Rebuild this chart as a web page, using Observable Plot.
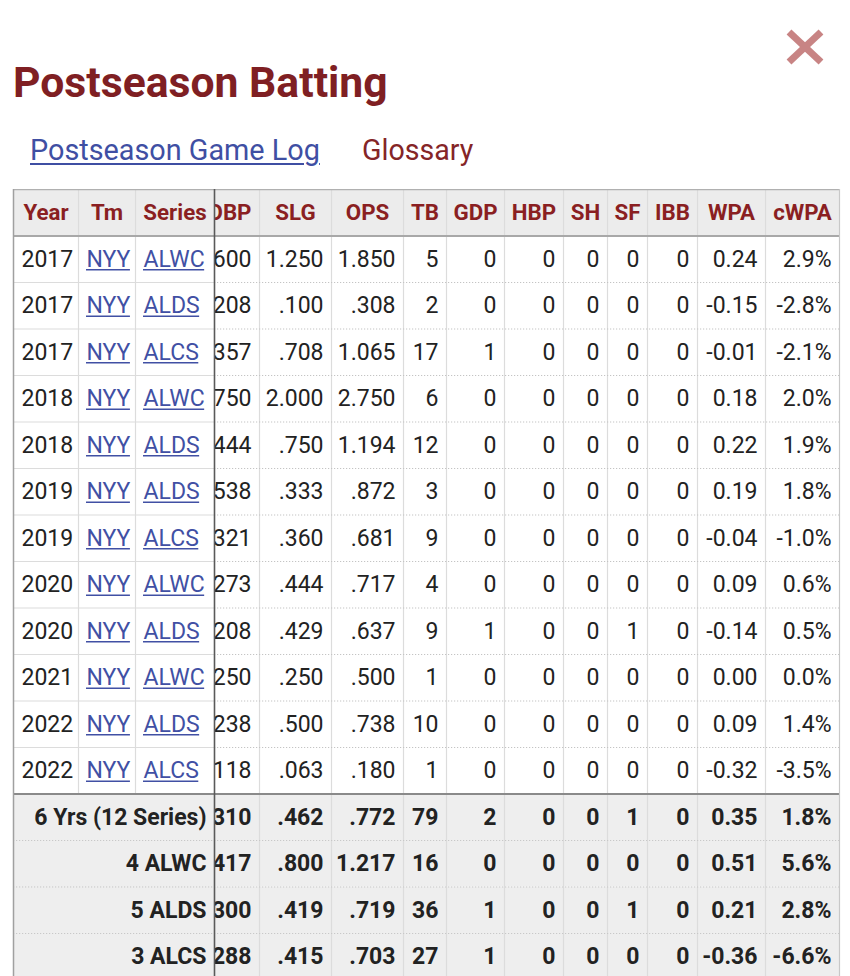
<!DOCTYPE html>
<html>
<head>
<meta charset="utf-8">
<script src="https://cdn.jsdelivr.net/npm/d3@7"></script>
<script src="https://cdn.jsdelivr.net/npm/@observablehq/plot@0.6"></script>
<style>
  html, body { margin: 0; padding: 0; background: #fff; overflow: hidden; }
  body { width: 850px; height: 976px; font-family: Roboto, "Noto Sans", sans-serif; }
  #top { position: relative; height: 189px; }
  #title { position: absolute; left: 13px; top: 61px; font-size: 42.7px; line-height: 42px; font-weight: 700; color: #7f1f23; white-space: nowrap; }
  #gamelog { position: absolute; left: 30px; top: 136px; font-size: 28.8px; line-height: 28px; color: #3f4fa3; text-decoration: underline; text-decoration-thickness: 2px; text-underline-offset: 3px; white-space: nowrap; }
  #glossary { position: absolute; left: 362px; top: 136px; font-size: 28.6px; line-height: 28px; color: #852527; white-space: nowrap; }
  #close { position: absolute; left: 786px; top: 29px; }
  #chart svg { display: block; }
</style>
</head>
<body>
<div id="top">
  <div id="title">Postseason Batting</div>
  <div id="gamelog">Postseason Game Log</div>
  <div id="glossary">Glossary</div>
  <svg id="close" width="38" height="36" viewBox="0 0 38 36">
    <line x1="3" y1="3" x2="35" y2="33" stroke="#c88484" stroke-width="7"/>
    <line x1="35" y1="3" x2="3" y2="33" stroke="#c88484" stroke-width="7"/>
  </svg>
</div>
<div id="chart"></div>
<script>
// ---------- data ----------
const headers = ["Year","Tm","Series","OBP","SLG","OPS","TB","GDP","HBP","SH","SF","IBB","WPA","cWPA"];

const years  = ["2017","2017","2017","2018","2018","2019","2019","2020","2020","2021","2022","2022"];
const teams  = ["NYY","NYY","NYY","NYY","NYY","NYY","NYY","NYY","NYY","NYY","NYY","NYY"];
const series = ["ALWC","ALDS","ALCS","ALWC","ALDS","ALDS","ALCS","ALWC","ALDS","ALWC","ALDS","ALCS"];
const obp  = [".600",".208",".357",".750",".444",".538",".321",".273",".208",".250",".238",".118"];
const slg  = ["1.250",".100",".708","2.000",".750",".333",".360",".444",".429",".250",".500",".063"];
const ops  = ["1.850",".308","1.065","2.750","1.194",".872",".681",".717",".637",".500",".738",".180"];
const tb   = [5,2,17,6,12,3,9,4,9,1,10,1];
const gdp  = [0,0,1,0,0,0,0,0,1,0,0,0];
const hbp  = [0,0,0,0,0,0,0,0,0,0,0,0];
const sh   = [0,0,0,0,0,0,0,0,0,0,0,0];
const sf   = [0,0,0,0,0,0,0,0,1,0,0,0];
const ibb  = [0,0,0,0,0,0,0,0,0,0,0,0];
const wpa  = ["0.24","-0.15","-0.01","0.18","0.22","0.19","-0.04","0.09","-0.14","0.00","0.09","-0.32"];
const cwpa = ["2.9%","-2.8%","-2.1%","2.0%","1.9%","1.8%","-1.0%","0.6%","0.5%","0.0%","1.4%","-3.5%"];

const sumLabels = ["6 Yrs (12 Series)","4 ALWC","5 ALDS","3 ALCS"];
const sumObp  = [".310",".417",".300",".288"];
const sumSlg  = [".462",".800",".419",".415"];
const sumOps  = [".772","1.217",".719",".703"];
const sumTb   = [79,16,36,27];
const sumGdp  = [2,0,1,1];
const sumHbp  = [0,0,0,0];
const sumSh   = [0,0,0,0];
const sumSf   = [1,0,1,0];
const sumIbb  = [0,0,0,0];
const sumWpa  = ["0.35","0.51","0.21","-0.36"];
const sumCwpa = ["1.8%","5.6%","2.8%","-6.6%"];

// ---------- layout ----------
const frozenEdges = [13, 78, 135, 214];
const scrollEdges = [199, 259, 331, 403, 446, 504, 563, 607, 647, 697, 765, 839];
const tableLeft = 13, tableRight = 839, frozenRight = 214;
const pad = 8;
const rowH = 46.5;
const nData = years.length, nSum = sumLabels.length;
const nRows = 1 + nData + nSum;
const H = 787;
const bodySize = 23, headSize = 22.3;
const fontFamily = "Roboto, 'Noto Sans', sans-serif";

const dataCols = [obp, slg, ops, tb, gdp, hbp, sh, sf, ibb, wpa, cwpa];
const sumCols  = [sumObp, sumSlg, sumOps, sumTb, sumGdp, sumHbp, sumSh, sumSf, sumIbb, sumWpa, sumCwpa];

// text measuring for link underlines
const ctx = document.createElement("canvas").getContext("2d");
ctx.font = `${bodySize}px Roboto`;
const measure = s => ctx.measureText(s).width;

// ---------- derived tables ----------
const rowBg = d3.range(nRows).map(r => ({
  r, fill: r === 0 ? "#ececec" : (r <= nData ? "#ffffff" : "#eeeeee")
}));

const headScroll = headers.slice(3).map((h, j) => ({
  text: h, x: (scrollEdges[j] + scrollEdges[j + 1]) / 2, y: 0.5
}));
const headFrozen = headers.slice(0, 3).map((h, j) => ({
  text: h, x: (frozenEdges[j] + frozenEdges[j + 1]) / 2, y: 0.5
}));

const dataScroll = [];
dataCols.forEach((col, j) => col.forEach((v, i) => dataScroll.push({
  text: String(v), x: scrollEdges[j + 1] - pad, y: 1 + i + 0.5
})));
const sumScroll = [];
sumCols.forEach((col, j) => col.forEach((v, i) => sumScroll.push({
  text: String(v), x: scrollEdges[j + 1] - pad, y: 1 + nData + i + 0.5
})));

const yearCells = years.map((v, i) => ({ text: v, x: frozenEdges[0] + pad, y: 1 + i + 0.5 }));
const linkCells = [
  ...teams.map((v, i) => ({ text: v, x: frozenEdges[1] + pad, y: 1 + i + 0.5 })),
  ...series.map((v, i) => ({ text: v, x: frozenEdges[2] + pad, y: 1 + i + 0.5 }))
];
const underlineOffset = 10.5 / rowH;
const linkUnderlines = linkCells.map(d => ({
  x1: d.x, x2: d.x + measure(d.text), y: d.y + underlineOffset
}));
const sumLabelCells = sumLabels.map((v, i) => ({ text: v, x: frozenRight - pad, y: 1 + nData + i + 0.5 }));

const scrollInnerEdges = scrollEdges.slice(1, -1);
const rowLinesData = d3.range(2, 1 + nData);
const rowLinesSum = d3.range(2 + nData, nRows);

const chart = Plot.plot({
  width: 850,
  height: H,
  margin: 0,
  x: { domain: [0, 850], range: [0, 850], axis: null },
  y: { domain: [0, nRows], range: [0, nRows * rowH], axis: null },
  marks: [
    Plot.rect(rowBg, { x1: tableLeft, x2: tableRight, y1: d => d.r, y2: d => d.r + 1, fill: d => d.fill }),
    Plot.ruleX(scrollInnerEdges, { x: d => d, y1: 0, y2: nRows, stroke: "#dcdcdc", strokeWidth: 1.2 }),
    Plot.ruleY(rowLinesData, { y: d => d, x1: frozenRight, x2: tableRight, stroke: "#c4c4c4", strokeWidth: 1.2, strokeDasharray: "1.2,1.8" }),
    Plot.ruleY(rowLinesSum, { y: d => d, x1: tableLeft, x2: tableRight, stroke: "#c8c8c8", strokeWidth: 1.2, strokeDasharray: "1.2,1.8" }),
    Plot.text(headScroll, { x: "x", y: "y", text: "text", textAnchor: "middle", fontSize: headSize, fontWeight: 700, fill: "#8a1f22", fontFamily }),
    Plot.text(dataScroll, { x: "x", y: "y", text: "text", textAnchor: "end", fontSize: bodySize, fill: "#222222", fontFamily }),
    Plot.text(sumScroll, { x: "x", y: "y", text: "text", textAnchor: "end", fontSize: bodySize, fontWeight: 700, fill: "#222222", fontFamily }),
    Plot.rect(rowBg, { x1: tableLeft, x2: frozenRight, y1: d => d.r, y2: d => d.r + 1, fill: d => d.fill }),
    Plot.ruleX(frozenEdges.slice(1, -1), { x: d => d, y1: 0, y2: 1 + nData, stroke: "#dcdcdc", strokeWidth: 1.2 }),
    Plot.ruleY(rowLinesData, { y: d => d, x1: tableLeft, x2: frozenRight, stroke: "#dcdcdc", strokeWidth: 1.2 }),
    Plot.ruleY(rowLinesSum, { y: d => d, x1: tableLeft, x2: frozenRight, stroke: "#c8c8c8", strokeWidth: 1.2, strokeDasharray: "1.2,1.8" }),
    Plot.text(headFrozen, { x: "x", y: "y", text: "text", textAnchor: "middle", fontSize: headSize, fontWeight: 700, fill: "#8a1f22", fontFamily }),
    Plot.text(yearCells, { x: "x", y: "y", text: "text", textAnchor: "start", fontSize: bodySize, fill: "#222222", fontFamily }),
    Plot.text(linkCells, { x: "x", y: "y", text: "text", textAnchor: "start", fontSize: bodySize, fill: "#4150a4", fontFamily }),
    Plot.ruleY(linkUnderlines, { y: "y", x1: "x1", x2: "x2", stroke: "#4150a4", strokeWidth: 1.6 }),
    Plot.text(sumLabelCells, { x: "x", y: "y", text: "text", textAnchor: "end", fontSize: bodySize, fontWeight: 700, fill: "#222222", fontFamily }),
    Plot.ruleY([1], { y: d => d, x1: tableLeft, x2: tableRight, stroke: "#a8a8a8", strokeWidth: 2 }),
    Plot.ruleY([1 + nData], { y: d => d, x1: tableLeft, x2: tableRight, stroke: "#8a8a8a", strokeWidth: 1.8 }),
    Plot.ruleY([0], { y: d => d, x1: tableLeft, x2: tableRight, stroke: "#b0b0b0", strokeWidth: 1.5 }),
    Plot.ruleX([tableLeft], { x: d => d, y1: 0, y2: nRows, stroke: "#a0a0a0", strokeWidth: 1.5 }),
    Plot.ruleX([tableRight], { x: d => d, y1: 0, y2: nRows, stroke: "#c8c8c8", strokeWidth: 1.2 }),
    Plot.ruleX([frozenRight], { x: d => d, y1: 0, y2: nRows, stroke: "#5a5a5a", strokeWidth: 1.6 })
  ]
});

document.getElementById("chart").appendChild(chart);
</script>
</body>
</html>
